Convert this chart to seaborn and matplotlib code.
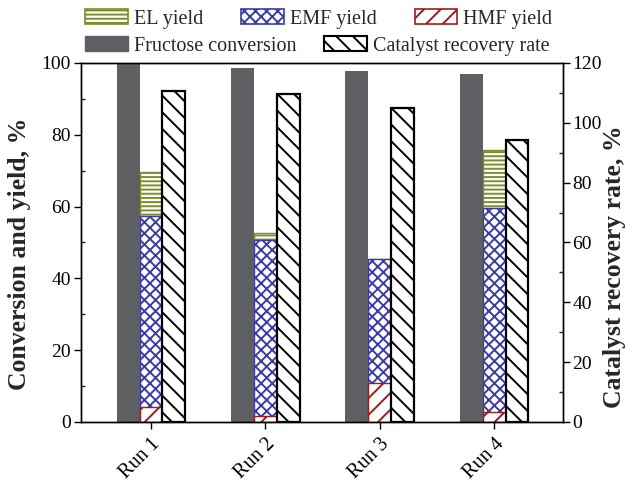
import numpy as np
import pandas as pd
import matplotlib
matplotlib.use("Agg")
import matplotlib.pyplot as plt
import seaborn as sns
from matplotlib.patches import Patch
from matplotlib.ticker import MultipleLocator

runs = ["Run 1", "Run 2", "Run 3", "Run 4"]
fructose_conv = [100.0, 98.5, 97.9, 96.9]
hmf_yield = [4.1, 1.8, 10.8, 2.9]
emf_yield = [53.3, 48.9, 34.5, 56.6]
el_yield = [12.2, 1.9, 0.0, 16.3]
recovery_rate = [110.6, 109.6, 104.9, 94.3]

sns.set_theme(style="ticks")
plt.rcParams["font.family"] = ["Liberation Serif", "DejaVu Serif"]
plt.rcParams["hatch.linewidth"] = 1.4

GRAY = "#5c5f63"
OLIVE = "#7f8b2e"
BLUE = "#3b3ba6"
RED = "#9c1c1c"

levels = ["Fructose", "Yield", "Recovery"]
palette = {"Fructose": GRAY, "Yield": "white", "Recovery": "white"}

hmf = np.array(hmf_yield)
emf_top = hmf + np.array(emf_yield)
el_top = emf_top + np.array(el_yield)

fig = plt.figure(figsize=(6.33, 4.83), dpi=100)
ax = fig.add_axes([0.1275, 0.1263, 0.889 - 0.1275, 0.8696 - 0.1263])
ax2 = ax.twinx()

def draw(axis, values, level, **kw):
    df = pd.DataFrame({"run": runs, "value": values, "group": level})
    sns.barplot(data=df, x="run", y="value", hue="group", hue_order=levels,
                order=runs, palette=palette, width=0.6, dodge=True,
                legend=False, ax=axis, errorbar=None, **kw)

draw(ax, fructose_conv, "Fructose", edgecolor=GRAY, linewidth=0)
draw(ax, list(el_top), "Yield", edgecolor=OLIVE, hatch="----", linewidth=1.0)
draw(ax, list(emf_top), "Yield", edgecolor=BLUE, hatch="xxx", linewidth=1.0)
draw(ax, list(hmf), "Yield", edgecolor=RED, hatch="//", linewidth=1.0)
draw(ax2, recovery_rate, "Recovery", edgecolor="black", hatch="\\\\", linewidth=1.6)

ax.set_xlim(-0.615, 3.6)
ax.set_ylim(0, 100)
ax2.set_ylim(0, 120)
ax.yaxis.set_major_locator(MultipleLocator(20))
ax.yaxis.set_minor_locator(MultipleLocator(10))
ax2.yaxis.set_major_locator(MultipleLocator(20))
ax2.yaxis.set_minor_locator(MultipleLocator(10))

for a in (ax, ax2):
    for s in a.spines.values():
        s.set_visible(True)
        s.set_color("black")
        s.set_linewidth(1.0)
    a.tick_params(axis="y", which="major", direction="out", length=5, width=1,
                  labelsize=14, colors="black", pad=2)
    a.tick_params(axis="y", which="minor", direction="in", length=3, width=1)
ax.tick_params(axis="x", which="major", direction="out", length=5, width=1,
               labelsize=14.5, colors="black", pad=4)
ax2.tick_params(axis="x", which="both", top=False, bottom=False)

for lab in ax.get_xticklabels():
    lab.set_rotation(45)
    lab.set_ha("right")
    lab.set_rotation_mode("anchor")

ax.set_xlabel("")
ax.set_ylabel("Conversion and yield, %", fontsize=18.5, fontweight="bold")
ax2.set_ylabel("Catalyst recovery rate, %", fontsize=18.5, fontweight="bold")
ax.yaxis.set_label_coords(-0.103, 0.468)
ax2.yaxis.set_label_coords(1.084, 0.432)

h1 = [Patch(facecolor="white", edgecolor=OLIVE, hatch="----", linewidth=1.2),
      Patch(facecolor="white", edgecolor=BLUE, hatch="xxx", linewidth=1.2),
      Patch(facecolor="white", edgecolor=RED, hatch="//", linewidth=1.2)]
l1 = ["EL yield", "EMF yield", "HMF yield"]
h2 = [Patch(facecolor=GRAY, edgecolor=GRAY),
      Patch(facecolor="white", edgecolor="black", hatch="\\\\", linewidth=1.5)]
l2 = ["Fructose conversion", "Catalyst recovery rate"]

kw = dict(frameon=False, fontsize=14.5, handlelength=2.1, handleheight=0.75,
          handletextpad=0.3, borderpad=0, borderaxespad=0, loc="center left")
leg1 = fig.legend(h1, l1, ncol=3, columnspacing=1.9,
                  bbox_to_anchor=(0.135, 1 - 19 / 483), **kw)
leg2 = fig.legend(h2, l2, ncol=2, columnspacing=1.4,
                  bbox_to_anchor=(0.135, 1 - 46 / 483), **kw)

fig.savefig("out.png", dpi=100)
